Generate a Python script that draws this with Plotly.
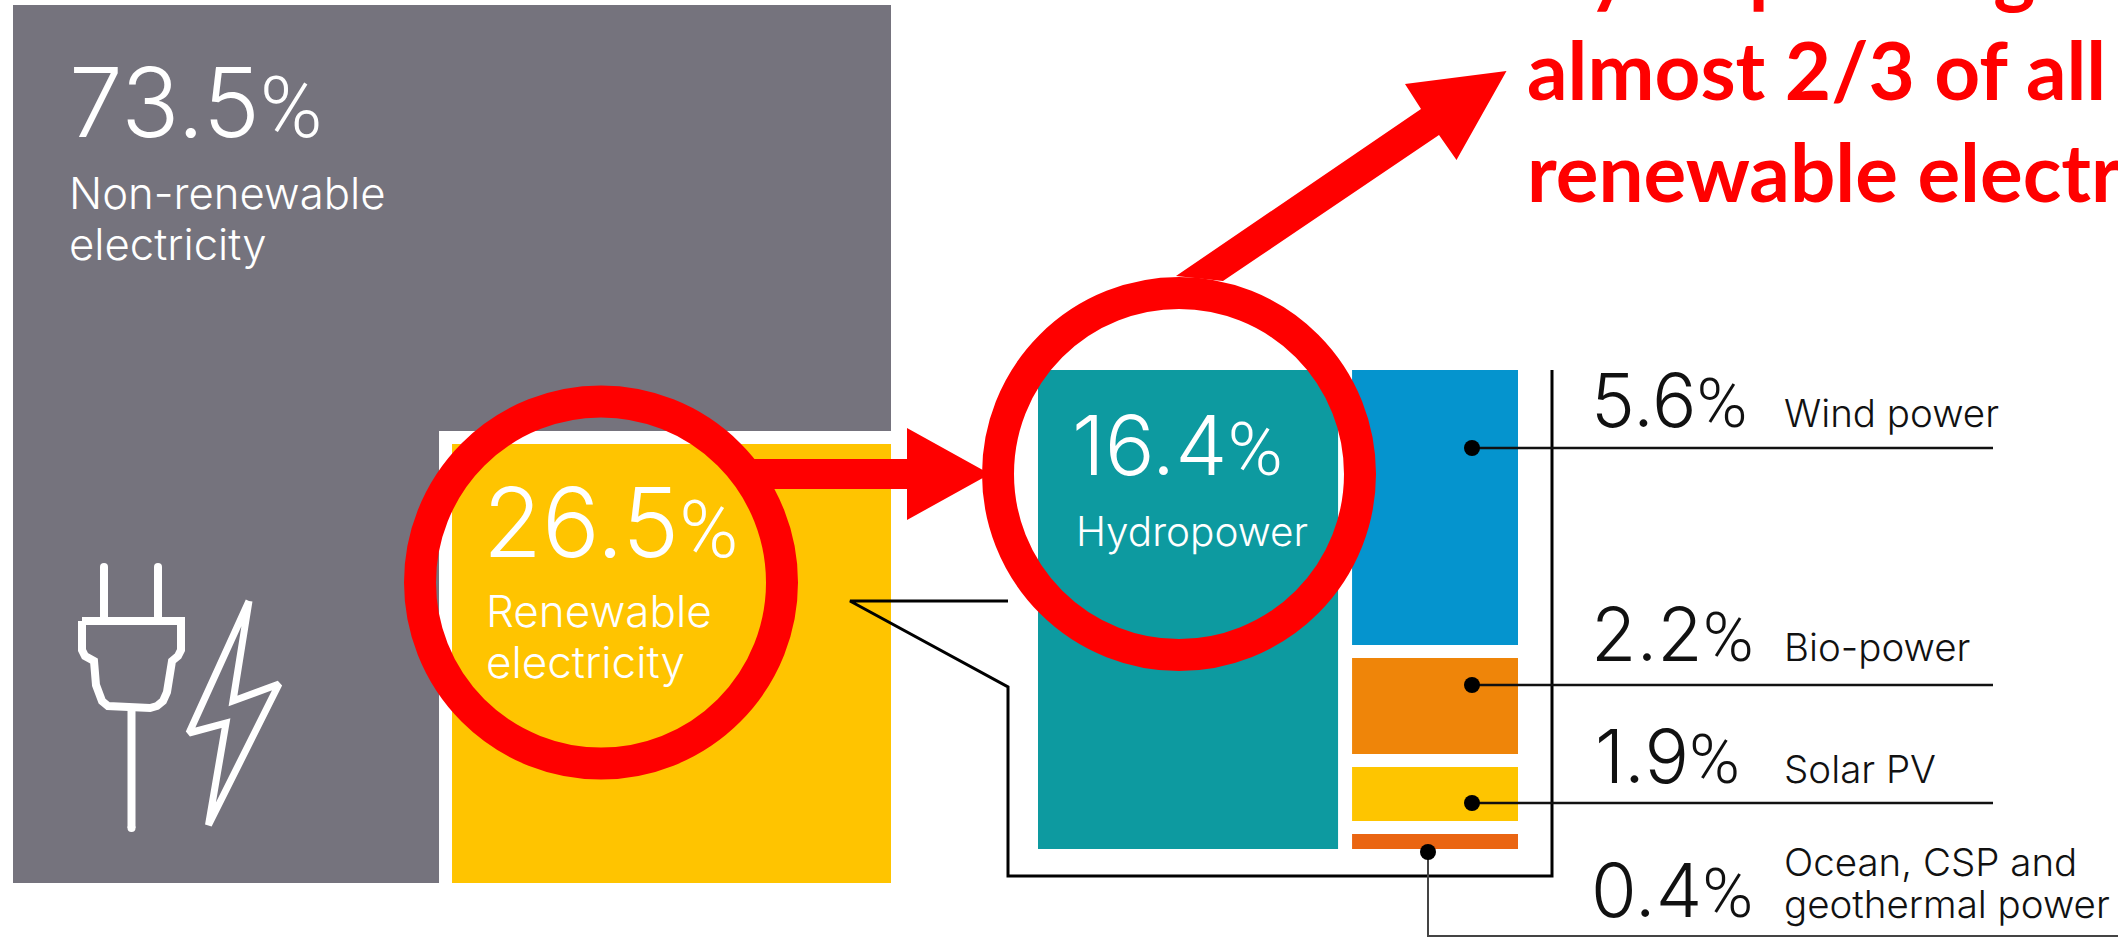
import math
import plotly.graph_objects as go

# Shares of global electricity generation, in percent
top_labels = ["Non-renewable", "Renewable"]
top_shares = [73.5, 26.5]
hydro_share = 16.4
hydro_label = "Hydropower"
other_shares = [5.6, 2.2, 1.9, 0.4]
other_labels = ["Wind power", "Bio-power", "Solar PV", "Ocean, CSP and|geothermal power"]
callout_lines = ["Hydropower generates", "almost 2/3 of all", "renewable electricity"]

# Canvas units are page pixels
W, H = 2118, 937
GREY, AMBER, TEAL = "#75737D", "#FFC400", "#0D9AA0"
RED = "#FF0000"
INK = "#111111"
FONT = "Inter"

# Main square: the amber block's side follows the square root of its share
sq_left, sq_top, sq_side = 13, 5, 878
notch = sq_side * math.sqrt(top_shares[1] / 100)
sq_right, sq_bottom = sq_left + sq_side, sq_top + sq_side
gap = 13

# Breakdown tiles: the hydro width is its share of the renewable block
tile_left, tile_right, tile_top, tile_bottom = 1038, 1518, 370, 849
hydro_right = tile_left + (tile_right - tile_left) * hydro_share / top_shares[1] + 3
column_left = hydro_right + 14
other_tops = [370, 658, 767, 834]
other_bottoms = [645, 754, 821, 849]
other_colors = ["#0594CE", "#EF8509", "#FEC500", "#EA6512"]


def tile(x0, x1, y0, y1, color, name):
    return go.Bar(x=[(x0 + x1) / 2], y=[y1 - y0], base=[y0], width=[x1 - x0],
                  marker=dict(color=color, line=dict(width=0), opacity=1), name=name,
                  hoverinfo="name")


def path(xs, ys, width, color="white"):
    return go.Scatter(x=xs, y=ys, mode="lines", hoverinfo="skip",
                      line=dict(color=color, width=width, shape="linear"))


fig = go.Figure()
fig.add_trace(tile(sq_left, sq_right, sq_top, sq_bottom, GREY, top_labels[0]))
fig.add_trace(tile(sq_right - notch, sq_right, sq_bottom - notch, sq_bottom, "white", "gap"))
fig.add_trace(tile(sq_right - notch + gap, sq_right, sq_bottom - notch + gap, sq_bottom, AMBER, top_labels[1]))
fig.add_trace(tile(tile_left, hydro_right, tile_top, tile_bottom, TEAL, hydro_label))
for top, bottom, color, label in zip(other_tops, other_bottoms, other_colors, other_labels):
    fig.add_trace(tile(column_left, tile_right, top, bottom, color, label))

# Bracket joining the amber block to its breakdown
fig.add_trace(path([1008, 850, 1008, 1008, 1552, 1552], [601, 601, 687, 876, 876, 370], 3, "#000000"))

# Leader lines and their dots
leader_y = [448, 685, 803]
for y in leader_y:
    fig.add_trace(path([1472, 1993], [y, y], 2.5, INK))
fig.add_trace(path([1428, 1428, W], [852, 936, 936], 2, "#444444"))
fig.add_trace(go.Scatter(x=[1472, 1472, 1472, 1428], y=leader_y + [852], mode="markers",
                         marker=dict(size=16, color="#000000"), hoverinfo="skip"))

# Plug icon: body outline, prongs and cable with rounded ends
plug_x = [82, 181, 181, 178, 172, 169, 167, 163, 157, 150, 115, 108, 102, 98, 96, 94, 85, 82, 82]
plug_y = [621, 621, 650, 656, 661, 685, 692, 701, 706, 708, 708, 706, 701, 692, 685, 661, 656, 650, 621]
fig.add_trace(path(plug_x, plug_y, 8))
for x, y0, y1 in [(104, 567, 617), (158, 567, 617), (131.5, 708, 828)]:
    fig.add_trace(go.Scatter(x=[x, x], y=[y0, y1], mode="lines+markers", hoverinfo="skip",
                             line=dict(color="white", width=8),
                             marker=dict(size=8, color="white")))
bolt_x = [249, 189, 226, 208.5, 279, 233, 249]
bolt_y = [601, 733, 723, 825, 684, 701, 601]
fig.add_trace(path(bolt_x, bolt_y, 7))

# Red emphasis: two rings and two arrows
rings = [(601, 582.5, 181), (1179, 474, 181)]
shapes = [dict(type="circle", xref="x", yref="y", x0=cx - r, x1=cx + r, y0=cy - r, y1=cy + r,
               line=dict(color=RED, width=32), fillcolor="rgba(0,0,0,0)", layer="above")
          for cx, cy, r in rings]
right_arrow = "M 752 459 L 907 459 L 907 428 L 990 474 L 907 520 L 907 489 L 752 489 Z"
up_arrow = "M 1176 276 L 1421 109 L 1405 84 L 1506.5 71 L 1456.5 160 L 1439 135 L 1223 281 Z"
for d in (right_arrow, up_arrow):
    shapes.append(dict(type="path", path=d, xref="x", yref="y", fillcolor=RED,
                       line=dict(width=0), layer="above"))

annotations = []


def label(x, baseline, text, size, color="white", family=FONT, weight=300):
    # Positions text by its baseline; descent is a fixed fraction of the font size
    annotations.append(dict(x=x, y=baseline + 0.244 * size, text=text, xref="x", yref="y",
                            xanchor="left", yanchor="bottom", showarrow=False, borderpad=0,
                            align="left", font=dict(family=family, size=size, color=color, weight=weight)))


def pct(v, pct_size):
    return f"{v}<span style='font-family:Roboto;font-size:{pct_size}px'>%</span>"


label(68, 138, pct(top_shares[0], 85), 96)
label(68, 210, top_labels[0], 43.7)
label(68, 261, "electricity", 43.7)
label(482, 558, pct(top_shares[1], 80), 96)
label(485, 628, top_labels[1], 44)
label(485, 679, "electricity", 44)
label(1071, 476, pct(hydro_share, 75), 83)
label(1075, 547, hydro_label, 40.5)

value_x = [1590, 1590, 1594, 1590]
value_base = [428, 662, 784, 918]
text_base = [428, 662, 784, 877]
for i, v in enumerate(other_shares):
    label(value_x[i], value_base[i], pct(v, 69), 74, INK)
    lines = other_labels[i].split("|")
    label(1783, text_base[i], lines[0], 38.5, INK)
    if len(lines) > 1:
        label(1783, 919, lines[1], 38.5, INK)

red_base = [-4, 98, 200]
for line, base in zip(callout_lines, red_base):
    label(1526, base, line, 80, RED, "Lato", 700)

fig.update_layout(
    width=W, height=H, autosize=False, margin=dict(l=0, r=0, t=0, b=0),
    paper_bgcolor="white", plot_bgcolor="white", showlegend=False, barmode="overlay",
    xaxis=dict(range=[0, W], visible=False, fixedrange=True),
    yaxis=dict(range=[H, 0], visible=False, fixedrange=True),
    shapes=shapes, annotations=annotations,
)
fig.write_html("out.html", config=dict(displayModeBar=False))
